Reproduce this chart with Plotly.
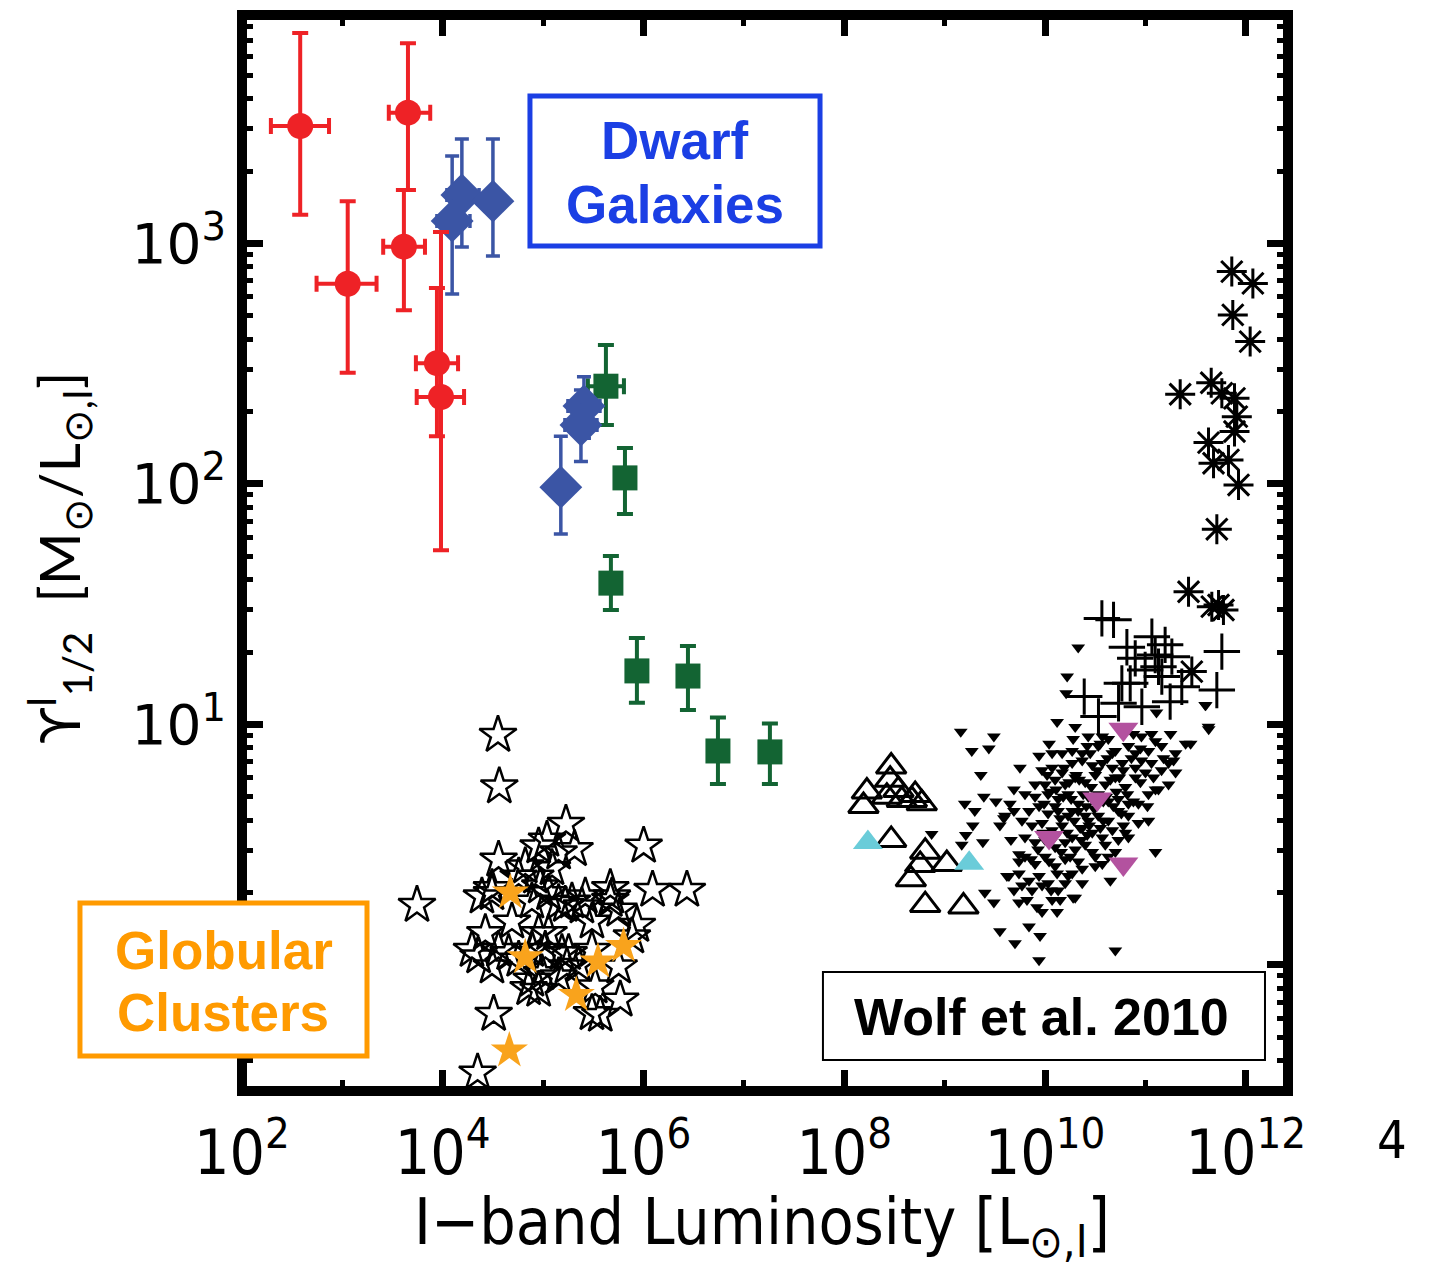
import plotly.graph_objects as go

# ---------------- data ----------------
# Red circles (ultra-faint dwarfs)
red_L = [380, 4500, 4100, 1130, 8750, 9600]
red_L_lo = [194, 2900, 2550, 553, 5400, 5500]
red_L_hi = [736, 7500, 6650, 2190, 14200, 16300]
red_ML = [3080, 3500, 970, 680, 318, 230]
red_ML_lo = [1315, 1670, 528, 290, 158, 53]
red_ML_hi = [7500, 6800, 1670, 1500, 653, 1117]

# Blue diamonds
blue_L = [15500, 12400, 31600, 255000, 238000, 150000]
blue_L_lo = [11000, 8750, 31600, 176600, 164800, 150000]
blue_L_hi = [23000, 18650, 31600, 368000, 343600, 150000]
blue_ML = [1590, 1240, 1500, 211, 176, 97]
blue_ML_lo = [967, 617, 887, 155, 124, 62]
blue_ML_hi = [2720, 2310, 2720, 279, 246, 158]

# Green squares
green_L = [422000, 653000, 473000, 859000, 2770000, 5510000, 18150000]
green_L_lo = [279000, 653000, 473000, 859000, 2770000, 5510000, 18150000]
green_L_hi = [638000, 653000, 473000, 859000, 2770000, 5510000, 18150000]
green_ML = [255, 106, 38.7, 16.7, 15.9, 7.76, 7.69]
green_ML_lo = [176, 75, 29.9, 12.3, 11.5, 5.66, 5.66]
green_ML_hi = [378, 141, 50.2, 22.9, 21.2, 10.7, 10.1]

# Globular clusters (open stars), log10 values
gc_logL = [4.550, 4.563, 3.743, 5.227, 6.001, 6.090, 6.432, 4.507, 4.347,
           4.955, 5.038, 5.313, 5.154, 4.822, 5.088, 4.922, 4.971, 4.490, 4.390,
           4.888, 5.054, 5.220, 5.287, 5.420, 5.669, 5.685, 5.752, 5.934, 5.884,
           4.689, 4.424, 4.955, 5.054, 4.556, 4.357, 4.490, 4.888, 5.021, 5.187,
           5.237, 4.756, 5.486, 5.752, 5.519, 5.154, 4.888, 4.855, 4.955, 5.768,
           5.486, 5.569, 4.756, 5.386, 5.154, 4.656, 4.291, 4.490, 5.669, 5.486,
           5.254, 5.353, 4.988, 4.556]
gc_logML = [0.956, 0.742, 0.249, 0.586, 0.495, 0.312, 0.312, -0.204, -0.448,
            0.492, 0.520, 0.481, 0.467, 0.409, 0.402, 0.367, 0.326, 0.298, 0.284,
            0.263, 0.298, 0.249, 0.263, 0.284, 0.319, 0.284, 0.229, 0.166, 0.118,
            0.180, 0.132, 0.132, 0.132, 0.062, 0.035, -0.007, 0.062, 0.062, 0.049,
            -0.007, 0.021, 0.062, -0.007, -0.090, -0.048, -0.062, -0.097, -0.104, -0.145,
            -0.201, -0.208, 0.367, 0.243, 0.257, 0.049, 0.062, 0.319, 0.270, 0.180,
            0.049, 0.000, -0.035, 0.437]

# Highlighted globular clusters (orange stars)
gco_logL = [4.673, 4.822, 5.546, 5.801, 5.330, 4.663]
gco_logML = [0.301, 0.032, 0.014, 0.079, -0.125, -0.356]

# Dwarf ellipticals (open triangles)
de_logL = [8.467, 8.225, 8.191, 8.457, 8.540, 8.424, 8.573, 8.706, 8.772, 8.673,
           8.467, 8.806, 8.756, 9.021, 8.663, 8.806, 9.187]
de_logML = [0.825, 0.721, 0.661, 0.770, 0.728, 0.700, 0.686, 0.707, 0.672, 0.686,
            0.520, 0.471, 0.416, 0.420, 0.356, 0.249, 0.243]

# Cyan filled triangles
cy_logL = [8.235, 9.244]
cy_logML = [0.509, 0.423]

# Ellipticals (small down triangles)
el_logL = [10.33, 10.22, 10.21, 9.16, 9.49, 9.27, 9.44, 9.36, 9.75, 10.12, 10.30, 10.04,
           9.94, 9.69, 9.39, 9.20, 9.51, 9.65, 9.30, 9.59, 9.28, 9.38, 9.21, 9.17, 9.74,
           9.62, 9.69, 9.40, 9.49, 9.74, 9.97, 10.12, 9.84, 9.55, 9.70, 9.94, 10.70, 10.30,
           10.65, 10.50, 11.10, 10.57, 11.10, 11.30, 11.28, 11.40, 11.45, 11.25, 11.60, 11.63,
           10.95, 11.10, 10.88, 10.70, 10.57, 10.42, 10.28,
           9.97, 10.07, 10.17, 10.27, 10.37, 10.47, 10.57, 10.67, 10.77, 10.86, 10.96, 11.06,
           10.00, 10.10, 10.20, 10.30, 10.40, 10.50, 10.60, 10.70, 10.80, 10.90, 11.00,
           9.90, 10.03, 10.13, 10.23, 10.33, 10.43, 10.53, 10.63, 10.73, 10.83,
           9.84, 9.94, 10.03, 10.13, 10.23, 10.33, 10.43, 10.53, 10.63, 10.73, 10.78,
           9.77, 9.87, 9.97, 10.07, 10.17, 10.27, 10.37, 10.47, 10.57, 10.67,
           9.80, 9.90, 10.00, 10.10, 10.20, 10.30, 10.40,
           9.80, 9.90, 10.00, 10.10, 10.20, 10.27, 10.37,
           9.64, 9.74, 9.84, 9.94, 10.03, 10.13, 9.77, 9.87, 9.97, 10.07, 10.23, 10.37,
           10.50, 10.63, 10.73, 10.83, 10.93, 11.03, 10.83, 10.93, 11.03, 11.13, 11.23,
           10.83, 10.96, 11.06, 10.63, 10.53, 10.43, 10.67, 10.78, 10.90, 11.03, 11.16,
           11.30, 11.16, 9.90, 9.80, 9.69, 9.60, 10.07, 10.17, 10.27, 10.37,
           11.11, 8.87, 11.595, 11.628,
           10.02, 10.11, 10.19, 10.26, 10.34, 10.41, 10.46, 10.52, 10.58, 10.65, 10.71, 10.76,
           10.15, 10.22, 10.29, 10.36, 10.44, 10.49, 10.55, 10.61, 10.09, 10.16, 10.04, 9.93,
           9.98, 10.25, 10.33, 10.12, 10.20, 10.06, 9.86, 9.82, 9.92, 10.40, 10.47, 10.38,
           10.31, 10.24, 10.18, 10.10, 10.05, 9.99, 10.27, 10.35, 10.42, 10.58, 10.68, 10.62,
           10.45, 10.74, 10.82, 10.88, 10.95, 11.02, 11.08, 11.18, 11.23, 10.90, 10.55, 10.60,
           10.47, 10.80, 10.70, 10.15, 9.95, 10.28, 9.74, 9.66, 9.55]
el_logML = [1.32, 1.20, 1.13, 0.97, 0.95, 0.89, 0.90, 0.79, 0.82, 1.01, 0.99, 0.92,
            0.87, 0.73, 0.70, 0.67, 0.68, 0.67, 0.64, 0.61, 0.58, 0.51, 0.54, 0.50, 0.46,
            0.37, 0.31, 0.30, 0.26, 0.26, 0.22, 0.22, 0.16, 0.14, 0.09, 0.02, 0.06, 0.28,
            0.35, 0.45, 0.47, 0.42, 0.73, 0.80, 0.85, 0.92, 0.92, 0.96, 1.08, 0.98,
            0.90, 0.93, 0.96, 0.89, 0.95, 0.91, 0.94,
            0.81, 0.82, 0.80, 0.84, 0.85, 0.83, 0.84, 0.82, 0.84, 0.86, 0.85, 0.84,
            0.75, 0.77, 0.75, 0.78, 0.76, 0.79, 0.75, 0.78, 0.74, 0.78, 0.80,
            0.70, 0.71, 0.69, 0.71, 0.67, 0.70, 0.71, 0.68, 0.69, 0.67,
            0.64, 0.66, 0.63, 0.64, 0.62, 0.64, 0.60, 0.62, 0.60, 0.64, 0.58,
            0.60, 0.58, 0.59, 0.56, 0.58, 0.53, 0.57, 0.55, 0.53, 0.56,
            0.53, 0.51, 0.52, 0.49, 0.51, 0.48, 0.50,
            0.45, 0.42, 0.45, 0.41, 0.44, 0.38, 0.40,
            0.37, 0.38, 0.35, 0.37, 0.34, 0.31, 0.33, 0.31, 0.33, 0.27, 0.37, 0.34,
            0.41, 0.45, 0.52, 0.53, 0.59, 0.60, 0.62, 0.67, 0.71, 0.73, 0.84,
            0.91, 0.95, 0.96, 0.94, 0.91, 0.95, 0.88, 0.81, 0.82, 0.89, 0.91,
            0.88, 0.81, 0.75, 0.71, 0.64, 0.62, 0.88, 0.88, 0.89, 0.88,
            1.05, 0.545, 1.081, 0.991,
            0.79, 0.73, 0.82, 0.69, 0.77, 0.66, 0.74, 0.81, 0.68, 0.77, 0.72, 0.63,
            0.61, 0.55, 0.60, 0.52, 0.58, 0.65, 0.57, 0.70, 0.53, 0.47, 0.43, 0.48,
            0.55, 0.45, 0.43, 0.38, 0.34, 0.31, 0.44, 0.27, 0.24, 0.62, 0.69, 0.71,
            0.79, 0.76, 0.70, 0.66, 0.72, 0.67, 0.64, 0.57, 0.54, 0.60, 0.66, 0.86,
            0.88, 0.78, 0.71, 0.68, 0.76, 0.66, 0.78, 0.86, 0.75, 0.88, 0.92, 0.50,
            0.47, 0.55, 0.47, 0.27, 0.12, 0.28, 0.43, 0.52, 0.58]

# Magenta down triangles
mg_logL = [10.78, 10.52, 10.04, 10.78]
mg_logML = [0.98, 0.69, 0.53, 0.42]

# Pluses
pl_logL = [10.566, 10.682, 10.815, 11.064, 11.196, 11.097, 11.263, 11.761, 11.711, 11.246,
           11.362, 10.390, 10.765, 10.848, 10.997, 10.732, 10.532, 10.964, 11.130, 10.898,
           11.163]
pl_logML = [1.441, 1.435, 1.321, 1.365, 1.331, 1.289, 1.282, 1.303, 1.143, 1.095,
            1.157, 1.116, 1.171, 1.171, 1.227, 1.088, 1.033, 1.074, 1.240, 1.275,
            1.199]

# Asterisks
as_logL = [11.860, 12.070, 11.870, 12.043, 11.346, 11.655, 11.761, 11.887, 11.910, 11.887,
           11.628, 11.678, 11.827, 11.927, 11.711, 11.429, 11.661, 11.777, 11.728, 11.462]
as_logML = [2.883, 2.834, 2.703, 2.592, 2.373, 2.421, 2.377, 2.356, 2.280, 2.218,
            2.172, 2.086, 2.100, 1.996, 1.812, 1.552, 1.490, 1.476, 1.497, 1.220]

x_tick_exp = [2, 4, 6, 8, 10, 12]
y_tick_exp = [0, 1, 2, 3]

# ---------------- colours ----------------
RED = "#ee2226"
BLUE = "#3b55a5"
GREEN = "#136433"
ORANGE = "#f9a31c"
CYAN = "#6accd9"
MAGENTA = "#b3529f"

def p10(v):
    return [10 ** a for a in v]

fig = go.Figure()

fig.add_trace(go.Scatter(x=p10(gc_logL), y=p10(gc_logML), mode="markers",
                         marker=dict(symbol="star-open", size=28, color="black",
                                     line=dict(width=2.5, color="black"))))
fig.add_trace(go.Scatter(x=p10(gco_logL), y=p10(gco_logML), mode="markers",
                         marker=dict(symbol="star", size=28, color=ORANGE, line=dict(width=0))))
fig.add_trace(go.Scatter(x=p10(de_logL), y=p10(de_logML), mode="markers",
                         marker=dict(symbol="triangle-up-open", size=26, color="black",
                                     line=dict(width=3, color="black"))))
fig.add_trace(go.Scatter(x=p10(cy_logL), y=p10(cy_logML), mode="markers",
                         marker=dict(symbol="triangle-up", size=26, color=CYAN, line=dict(width=0))))
fig.add_trace(go.Scatter(x=p10(el_logL), y=p10(el_logML), mode="markers",
                         marker=dict(symbol="triangle-down", size=12, color="black", line=dict(width=0))))
fig.add_trace(go.Scatter(x=p10(mg_logL), y=p10(mg_logML), mode="markers",
                         marker=dict(symbol="triangle-down", size=26, color=MAGENTA, line=dict(width=0))))
fig.add_trace(go.Scatter(x=p10(pl_logL), y=p10(pl_logML), mode="markers",
                         marker=dict(symbol="cross-thin-open", size=26, color="black",
                                     line=dict(width=3, color="black"))))
fig.add_trace(go.Scatter(x=p10(as_logL), y=p10(as_logML), mode="markers",
                         marker=dict(symbol="asterisk-open", size=25, color="black",
                                     line=dict(width=3, color="black"))))

def err_trace(L, Llo, Lhi, M, Mlo, Mhi, color, symbol, size, thick, width):
    return go.Scatter(
        x=L, y=M, mode="markers",
        marker=dict(symbol=symbol, size=size, color=color, line=dict(width=0)),
        error_x=dict(type="data", symmetric=False,
                     array=[h - v for h, v in zip(Lhi, L)],
                     arrayminus=[v - l for v, l in zip(L, Llo)],
                     color=color, thickness=thick, width=width),
        error_y=dict(type="data", symmetric=False,
                     array=[h - v for h, v in zip(Mhi, M)],
                     arrayminus=[v - l for v, l in zip(M, Mlo)],
                     color=color, thickness=thick, width=width),
    )

fig.add_trace(err_trace(green_L, green_L_lo, green_L_hi, green_ML, green_ML_lo, green_ML_hi,
                        GREEN, "square", 25, 4, 8))
fig.add_trace(err_trace(blue_L, blue_L_lo, blue_L_hi, blue_ML, blue_ML_lo, blue_ML_hi,
                        BLUE, "diamond", 33, 3.5, 7))
fig.add_trace(err_trace(red_L, red_L_lo, red_L_hi, red_ML, red_ML_lo, red_ML_hi,
                        RED, "circle", 26, 4, 8))

# ---------------- axes ----------------
NARROW = "Liberation Sans Narrow, DejaVu Sans Condensed, Arial Narrow, sans-serif"
ROUND = "Lato, Noto Sans, sans-serif"
WIDE = "DejaVu Sans, Verdana, sans-serif"
BOLD = "Liberation Sans, Arial, sans-serif"

x_minor = [10 ** k for k in range(3, 13, 2)]
y_minor = [m * 10 ** k for k in range(-1, 4) for m in range(2, 10)]

fig.update_xaxes(
    type="log", range=[2, 12.42],
    showline=True, linewidth=1, linecolor="black", mirror="allticks",
    ticks="inside", ticklen=21, tickwidth=7, tickcolor="black",
    tickmode="array", tickvals=[10 ** e for e in x_tick_exp],
    ticktext=["10<sup>%d</sup>" % e for e in x_tick_exp],
    tickfont=dict(family=NARROW, size=62, color="black"),
    ticklabelstandoff=8,
    showgrid=False, zeroline=False,
    minor=dict(tickmode="array", tickvals=x_minor, ticks="inside", ticklen=11,
               tickwidth=5, tickcolor="black", showgrid=False),
)
fig.update_yaxes(
    type="log", range=[-0.524, 3.950],
    showline=True, linewidth=1, linecolor="black", mirror="allticks",
    ticks="inside", ticklen=21, tickwidth=7, tickcolor="black",
    tickmode="array", tickvals=[10 ** e for e in y_tick_exp],
    ticktext=["" if e == 0 else "10<sup>%d</sup>" % e for e in y_tick_exp],
    tickfont=dict(family=WIDE, size=55, color="black"),
    ticklabelstandoff=4,
    showgrid=False, zeroline=False,
    minor=dict(tickmode="array", tickvals=y_minor, ticks="inside", ticklen=11,
               tickwidth=5, tickcolor="black", showgrid=False),
)

# ---------------- frame, boxes and labels ----------------
shapes = [
    dict(type="rect", xref="paper", yref="paper", x0=0, x1=1, y0=0, y1=1,
         line=dict(color="black", width=10), fillcolor="rgba(0,0,0,0)", layer="above"),
    dict(type="rect", xref="paper", yref="paper", x0=0.2753, x1=0.5526, y0=0.7853, y1=0.9247,
         line=dict(color="#1b3fe4", width=5), fillcolor="white", layer="above"),
    dict(type="rect", xref="paper", yref="paper", x0=-0.1549, x1=0.1195, y0=0.0325, y1=0.1747,
         line=dict(color="#ff9a00", width=5), fillcolor="white", layer="above"),
    dict(type="rect", xref="paper", yref="paper", x0=0.5554, x1=0.9780, y0=0.0288, y1=0.1106,
         line=dict(color="black", width=2), fillcolor="white", layer="above"),
]

def ann(text, x, y, font, angle=0):
    return dict(text=text, x=x, y=y, xref="paper", yref="paper", showarrow=False,
                xanchor="center", yanchor="middle", font=font, textangle=angle)

annotations = [
    ann("<b>Dwarf</b>", 0.4140, 0.8829, dict(family=BOLD, size=53, color="#1b3fe4")),
    ann("<b>Galaxies</b>", 0.4140, 0.8243, dict(family=BOLD, size=53, color="#1b3fe4")),
    ann("<b>Globular</b>", -0.0172, 0.1310, dict(family=BOLD, size=53, color="#ff9a00")),
    ann("<b>Clusters</b>", -0.0182, 0.0734, dict(family=BOLD, size=53, color="#ff9a00")),
    ann("<b>Wolf et al. 2010</b>", 0.7648, 0.0687, dict(family=BOLD, size=52, color="black")),
    ann("4", 1.0994, -0.0455, dict(family=NARROW, size=52, color="black")),
    ann("I\u2212band Luminosity [L<sub>\u2299,I</sub>]", 0.4971, -0.1255,
        dict(family=NARROW, size=64, color="black")),
    ann("\u03d2<sup>I</sup><sub>1/2</sub>  [M<sub>\u2299</sub>/L<sub>\u2299,I</sub>]", -0.1760, 0.4960,
        dict(family=ROUND, size=57, color="black"), angle=-90),
]

fig.update_layout(
    width=1430, height=1268,
    margin=dict(l=242, r=142, t=15, b=177, autoexpand=False),
    paper_bgcolor="white", plot_bgcolor="white",
    showlegend=False, shapes=shapes, annotations=annotations,
)

fig.write_html("out.html")
